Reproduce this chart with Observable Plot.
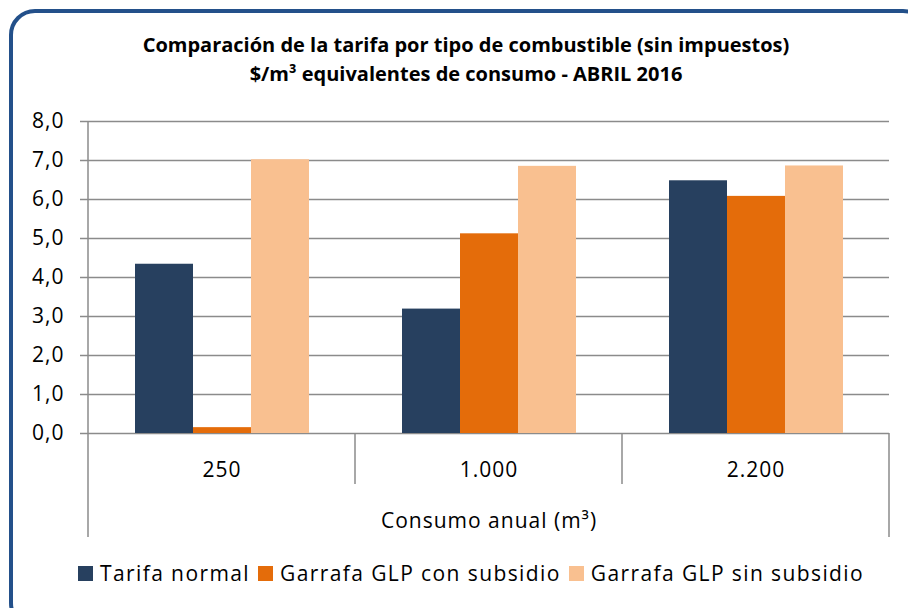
<!DOCTYPE html>
<html>
<head>
<meta charset="utf-8">
<script src="https://cdn.jsdelivr.net/npm/d3@7"></script>
<script src="https://cdn.jsdelivr.net/npm/@observablehq/plot@0.6"></script>
<style>
  html, body { margin: 0; padding: 0; background: #fff; }
  #wrap { position: relative; width: 908px; height: 608px; overflow: hidden; font-family: "Open Sans", Lato, sans-serif; color: #000; }
  #border { position: absolute; left: 9px; top: 9px; width: 920px; height: 620px; border: 4px solid #23508a; border-radius: 26px; box-sizing: border-box; }
  #title { position: absolute; left: 10px; width: 912px; top: 30px; text-align: center; font-weight: 700; font-size: 20px; line-height: 29px; }
  #chart { position: absolute; left: 0; top: 100px; }
  #legend { position: absolute; left: 78px; top: 559px; display: flex; align-items: center; font-size: 21px; letter-spacing: 1.4px; white-space: nowrap; }
  .item { display: flex; align-items: center; margin-right: 8px; }
  .sw { width: 15px; height: 15px; margin-right: 7px; }
  #chart svg text { letter-spacing: 1px; }
</style>
</head>
<body>
<div id="wrap">
  <div id="border"></div>
  <div id="title">Comparación de la tarifa por tipo de combustible (sin impuestos)<br>$/m³ equivalentes de consumo - ABRIL 2016</div>
  <div id="chart"></div>
  <div id="legend"></div>
</div>
<script>
const categories = ["250", "1.000", "2.200"];
const series = ["Tarifa normal", "Garrafa GLP con subsidio", "Garrafa GLP sin subsidio"];
const tarifaNormal = [4.34, 3.19, 6.48];
const garrafaConSubsidio = [0.15, 5.12, 6.08];
const garrafaSinSubsidio = [7.02, 6.85, 6.86];
const yTicks = [0, 1, 2, 3, 4, 5, 6, 7, 8];
const colors = ["#27405f", "#e46c0a", "#f9c090"];
const axisTitle = "Consumo anual (m³)";

const seriesValues = [tarifaNormal, garrafaConSubsidio, garrafaSinSubsidio];
const data = [];
categories.forEach((c, i) => series.forEach((s, j) => data.push({category: c, series: s, value: seriesValues[j][i]})));

const fmt = d => d.toFixed(1).replace(".", ",");
const gridColor = "#8b8b8b";

const chart = Plot.plot({
  width: 908,
  height: 443,
  marginLeft: 87,
  marginRight: 19,
  marginTop: 21,
  marginBottom: 110,
  style: {fontFamily: "'Open Sans', Lato, sans-serif", fontSize: "21px", color: "#000", background: "transparent", overflow: "visible"},
  fx: {domain: categories, padding: 0},
  x: {domain: series, paddingInner: 0, paddingOuter: 0.765, axis: null},
  y: {domain: [0, 8]},
  color: {domain: series, range: colors},
  marks: [
    Plot.ruleY(yTicks, {y: d => d, stroke: gridColor, strokeWidth: 1.5}),
    Plot.barY(data, {fx: "category", x: "series", y: "value", fill: "series"}),
    Plot.axisY({ticks: yTicks, tickSize: 8, tickPadding: 16, tickFormat: fmt, stroke: gridColor, strokeWidth: 1.5, fill: "#000", label: null, fontSize: 21}),
    Plot.axisFx({anchor: "bottom", tickSize: 0, tickPadding: 29, fontSize: 21, fill: "#000", label: axisTitle, labelAnchor: "center", labelOffset: 94})
  ]
});
document.getElementById("chart").appendChild(chart);

// category box dividers and left axis line, derived from the scales
const fxS = chart.scale("fx");
const yS = chart.scale("y");
const bw = fxS.bandwidth;
const edges = categories.map(c => fxS.apply(c)).concat([fxS.apply(categories[categories.length - 1]) + bw]);
const y0 = yS.apply(0), yTop = yS.apply(8);
const g = d3.select(chart).append("g").attr("stroke", gridColor).attr("stroke-width", 1.5);
edges.forEach((x, i) => {
  const outer = i === 0 || i === edges.length - 1;
  g.append("line")
    .attr("x1", x).attr("x2", x)
    .attr("y1", i === 0 ? yTop : y0)
    .attr("y2", y0 + (outer ? 104 : 51));
});

// legend
const legend = d3.select("#legend");
series.forEach((s, i) => {
  const it = legend.append("div").attr("class", "item");
  it.append("div").attr("class", "sw").style("background", colors[i]);
  it.append("span").text(s);
});
</script>
</body>
</html>
